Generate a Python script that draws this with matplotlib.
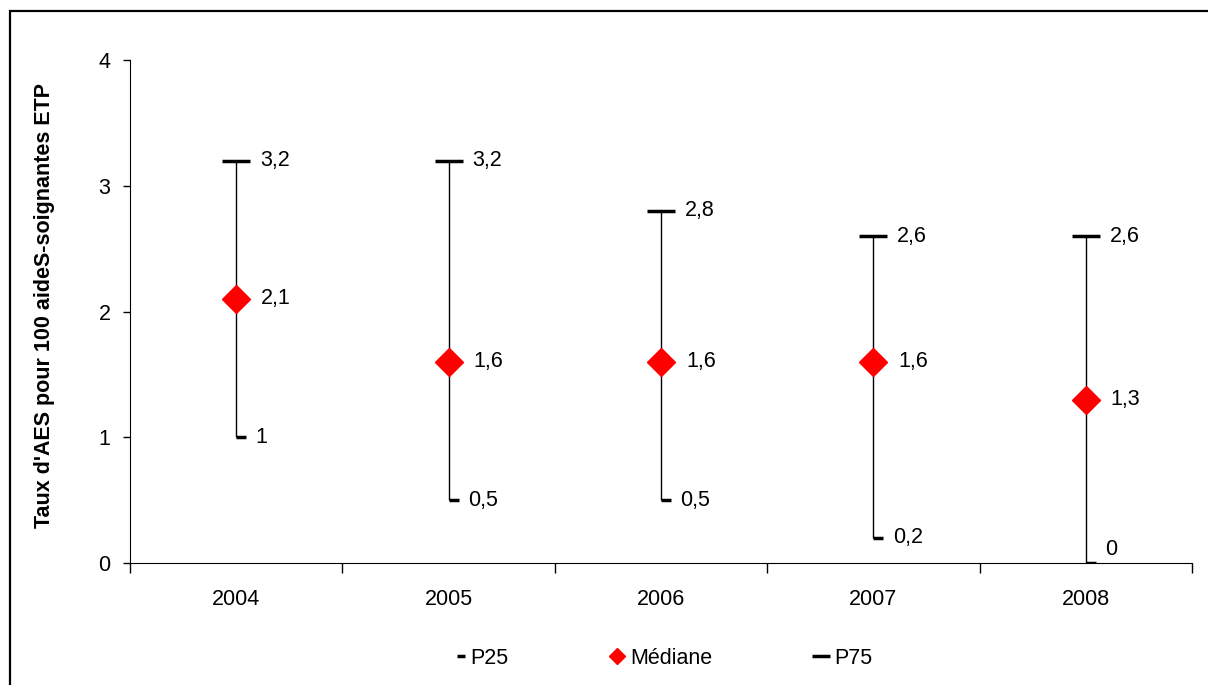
import numpy as np
import matplotlib
matplotlib.use("Agg")
from matplotlib import pyplot as plt
from matplotlib.path import Path
from matplotlib.patches import Rectangle
from matplotlib.lines import Line2D

plt.rcParams['font.family'] = ['Liberation Sans', 'DejaVu Sans']

annees = ['2004', '2005', '2006', '2007', '2008']
p25 = [1, 0.5, 0.5, 0.2, 0]
mediane = [2.1, 1.6, 1.6, 1.6, 1.3]
p75 = [3.2, 3.2, 2.8, 2.6, 2.6]

taille = 15.5

def fmt(v):
    return ('%g' % v).replace('.', ',')

# petit tiret qui part de la ligne vers la droite
tiret_droit = Path([(0, 0), (1, 0)], [Path.MOVETO, Path.LINETO])

fig = plt.figure(figsize=(12.08, 6.85), dpi=100)
ax = fig.add_axes([130/1208, 1-563/685, (1192-130)/1208, (563-60)/685])

x = np.arange(len(annees))
ax.vlines(x, p25, p75, color='black', linewidth=1)
ax.plot(x, p75, linestyle='none', marker='_', markersize=20, markeredgewidth=2.5, color='black')
ax.plot(x, p25, linestyle='none', marker=tiret_droit, markersize=14, markeredgewidth=2.5, color='black')
ax.plot(x, mediane, linestyle='none', marker='D', markersize=14, color='red', markeredgecolor='red')

for i in range(len(x)):
    ax.annotate(fmt(p75[i]), (x[i], p75[i]), xytext=(17, 0), textcoords='offset points',
                va='center', ha='left', fontsize=taille)
    ax.annotate(fmt(mediane[i]), (x[i], mediane[i]), xytext=(18, 0), textcoords='offset points',
                va='center', ha='left', fontsize=taille)
    ax.annotate(fmt(p25[i]), (x[i], p25[i]), xytext=(14, 10 if p25[i] == 0 else 0),
                textcoords='offset points', va='center', ha='left', fontsize=taille)

ax.set_xlim(-0.5, len(annees) - 0.5)
ax.set_ylim(0, 4)
ax.set_yticks([0, 1, 2, 3, 4])
ax.set_xticks(np.arange(-0.5, len(annees), 1))
ax.set_xticklabels([])
ax.set_xticks(x, minor=True)
ax.set_xticklabels(annees, minor=True)
ax.tick_params(axis='x', which='minor', length=0, pad=19, labelsize=taille)
ax.tick_params(axis='x', which='major', length=7, width=1, direction='out')
ax.tick_params(axis='y', length=5, width=1, pad=9, labelsize=taille)
ax.spines['top'].set_visible(False)
ax.spines['right'].set_visible(False)

fig.text(45/1208, 1-305/685, "Taux d'AES pour 100 aideS-soignantes ETP", rotation=90,
         ha='center', va='center', fontsize=taille, fontweight='bold')

handles = [
    Line2D([], [], linestyle='none', marker=tiret_droit, markersize=11.5, markeredgewidth=2.5, color='black'),
    Line2D([], [], linestyle='none', marker='D', markersize=8.2, color='red'),
    Line2D([], [], linestyle='none', marker='_', markersize=12.5, markeredgewidth=2.5, color='black'),
]
fig.legend(handles, ['P25', 'Médiane', 'P75'], loc='center', bbox_to_anchor=(661/1208, 1-658/685),
           ncol=3, frameon=False, fontsize=taille, handlelength=0.7, handletextpad=0.25,
           columnspacing=4.7)

fig.patches.append(Rectangle((10/1208, -0.1), 1.2, 1.1 - 11/685, transform=fig.transFigure,
                             fill=False, edgecolor='black', linewidth=1.6))

fig.savefig('out.png', dpi=100)
